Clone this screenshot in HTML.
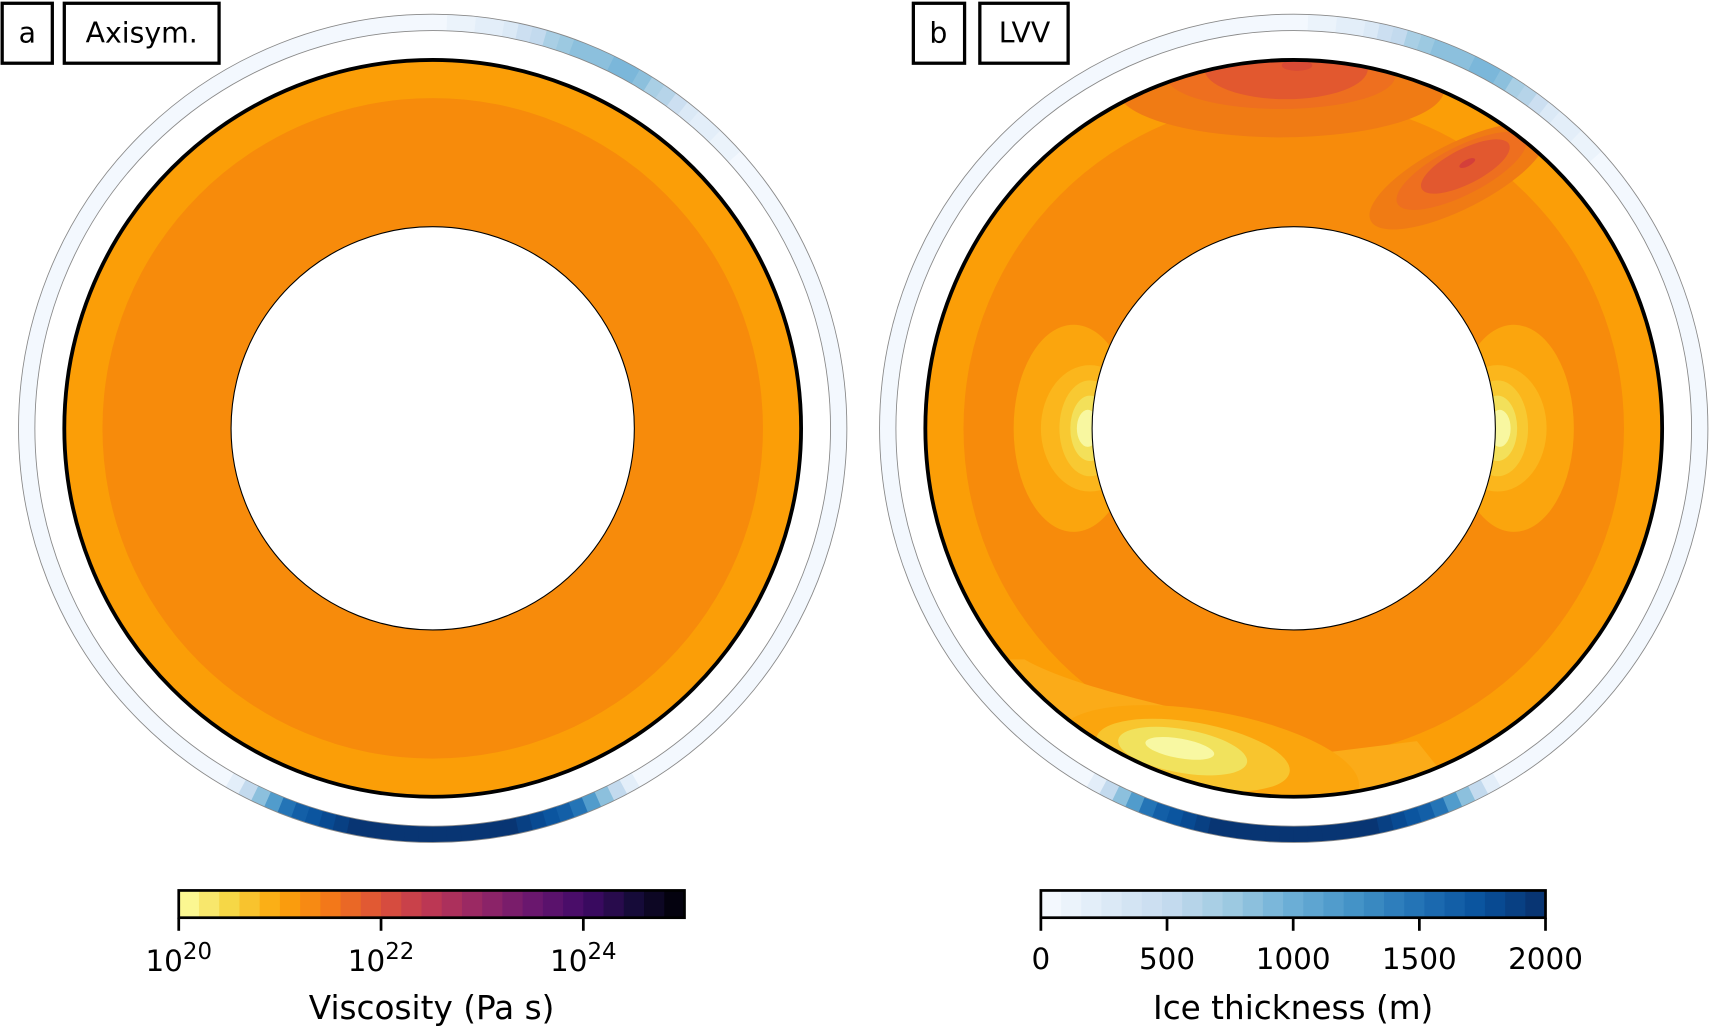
<!DOCTYPE html>
<html><head><meta charset="utf-8"><style>
html,body{margin:0;padding:0;background:#fff;}
svg{display:block;font-family:"DejaVu Sans","Liberation Sans",sans-serif;}
</style></head><body>
<svg id="fig" width="1709" height="1028" viewBox="0 0 1568 943.2" preserveAspectRatio="none" xmlns="http://www.w3.org/2000/svg">
<defs>
<clipPath id="annL"><path clip-rule="evenodd" d="M397,393 m-338,0 a338,338 0 1,0 676,0 a338,338 0 1,0 -676,0 Z M397,393 m-185,0 a185,185 0 1,1 370,0 a185,185 0 1,1 -370,0 Z"/></clipPath>
<clipPath id="annR"><path clip-rule="evenodd" d="M1187,393 m-338,0 a338,338 0 1,0 676,0 a338,338 0 1,0 -676,0 Z M1187,393 m-185,0 a185,185 0 1,1 370,0 a185,185 0 1,1 -370,0 Z"/></clipPath>
</defs>

<g>
  <g id="iceL"></g>
  <circle cx="397" cy="393" r="380" fill="none" stroke="#888" stroke-width="0.8"/>
  <circle cx="397" cy="393" r="365" fill="none" stroke="#888" stroke-width="0.8"/>
  <g clip-path="url(#annL)">
    <circle cx="397" cy="393" r="338" fill="#fb9e07"/>
    <circle cx="397" cy="393" r="303" fill="#f78b0b"/>
  </g>
  <circle cx="397" cy="393" r="338" fill="none" stroke="#000" stroke-width="3.5"/>
  <circle cx="397" cy="393" r="185" fill="#fff" stroke="#000" stroke-width="1"/>
  <rect x="2" y="3" width="46" height="55" fill="#fff" stroke="#000" stroke-width="3"/>
  <text x="25" y="39" font-size="26" text-anchor="middle">a</text>
  <rect x="59" y="3" width="142" height="55" fill="#fff" stroke="#000" stroke-width="3"/>
  <text x="130" y="39" font-size="26" text-anchor="middle">Axisym.</text>
</g>

<g>
  <g id="iceR"></g>
  <circle cx="1187" cy="393" r="380" fill="none" stroke="#888" stroke-width="0.8"/>
  <circle cx="1187" cy="393" r="365" fill="none" stroke="#888" stroke-width="0.8"/>
  <g clip-path="url(#annR)">
    <circle cx="1187" cy="393" r="338" fill="#fb9e07"/>
    <circle cx="1187" cy="393" r="303" fill="#f78b0b"/>
    <path d="M849,605 L940,605 C1000,640 1150,660 1220,690 L1300,680 L1340,730 L849,760 Z" fill="#fbab18"/>
    <ellipse cx="1175" cy="82" rx="150" ry="44" fill="#f07b14"/>
    <ellipse cx="1175" cy="70" rx="105" ry="30" fill="#ee6f1f"/>
    <ellipse cx="1180" cy="63" rx="75" ry="28" fill="#e2582f"/>
    <ellipse cx="1190" cy="60" rx="14" ry="5" fill="#d84a35"/>
    <g transform="rotate(-27 1340 155)">
      <ellipse cx="1335" cy="160" rx="90" ry="30" fill="#f07b14"/>
      <ellipse cx="1340" cy="157" rx="66" ry="22" fill="#ee6f1f"/>
      <ellipse cx="1345" cy="155" rx="45" ry="16" fill="#e2582f"/>
      <ellipse cx="1348" cy="153" rx="8" ry="3" fill="#d43f3a"/>
    </g>
    <ellipse cx="985" cy="393" rx="55" ry="95" fill="#fba50d"/>
    <ellipse cx="1000" cy="393" rx="45" ry="58" fill="#fbb61c"/>
    <ellipse cx="1000" cy="393" rx="28" ry="44" fill="#f8c932"/>
    <ellipse cx="1000" cy="393" rx="18" ry="30" fill="#f3e05a"/>
    <ellipse cx="998" cy="393" rx="10" ry="17" fill="#f8f7a0"/>
    <ellipse cx="1389" cy="393" rx="55" ry="95" fill="#fba50d"/>
    <ellipse cx="1374" cy="393" rx="45" ry="58" fill="#fbb61c"/>
    <ellipse cx="1374" cy="393" rx="28" ry="44" fill="#f8c932"/>
    <ellipse cx="1374" cy="393" rx="18" ry="30" fill="#f3e05a"/>
    <ellipse cx="1376" cy="393" rx="10" ry="17" fill="#f8f7a0"/>
    <g transform="rotate(10 1090 690)">
      <ellipse cx="1110" cy="695" rx="140" ry="46" fill="#fba50d"/>
      <ellipse cx="1095" cy="692" rx="90" ry="30" fill="#f8c52e"/>
      <ellipse cx="1085" cy="690" rx="60" ry="20" fill="#f1e25d"/>
      <ellipse cx="1082" cy="688" rx="32" ry="9" fill="#f8f8a2"/>
    </g>
  </g>
  <circle cx="1187" cy="393" r="338" fill="none" stroke="#000" stroke-width="3.5"/>
  <circle cx="1187" cy="393" r="185" fill="#fff" stroke="#000" stroke-width="1"/>
  <rect x="838" y="3" width="47" height="55" fill="#fff" stroke="#000" stroke-width="3"/>
  <text x="861" y="39" font-size="26" text-anchor="middle">b</text>
  <rect x="899" y="3" width="81" height="55" fill="#fff" stroke="#000" stroke-width="3"/>
  <text x="940" y="39" font-size="26" text-anchor="middle">LVV</text>
</g>

<g id="cbarL"></g>
<g id="cbarR"></g>
</svg>
<script>
const iceAngles = [0,10,20,30,40,50,60,70,80,90,100,110,120,130,140,150,160,170,180,190,200,210,220,230,240,250,260,270,280,290,300,310,320,330,340,350];
const iceThickness = [5,5,5,5,10,250,900,850,250,10,5,5,5,5,5,5,5,5,5,5,5,5,5,5,20,1600,2000,2000,2000,1600,20,5,5,5,5,5];
const viscTicks = [20,22,24];
const viscRange = [20,25];
const iceTicks = [0,500,1000,1500,2000];
const iceRange = [0,2000];
const nBins = 25;

const NS = "http://www.w3.org/2000/svg";
const infernoStops = ["#000004","#160b39","#420a68","#6a176e","#932667","#bc3754","#dd513a","#f37819","#fca50a","#f6d746","#fcffa4"];
const bluesStops = ["#f7fbff","#deebf7","#c6dbef","#9ecae1","#6baed6","#4292c6","#2171b5","#08519c","#08306b"];
function hex(c){return [1,3,5].map(i=>parseInt(c.substr(i,2),16));}
function cmap(stops,t){t=Math.max(0,Math.min(1,t));const n=stops.length-1;const i=Math.min(n-1,Math.floor(t*n));const f=t*n-i;const a=hex(stops[i]),b=hex(stops[i+1]);return "rgb("+a.map((v,k)=>Math.round(v+(b[k]-v)*f)).join(",")+")";}
function quant(t){return (Math.floor(Math.min(0.9999,t)*nBins)+0.5)/nBins;}
function iceColor(v){return cmap(bluesStops,quant((v-iceRange[0])/(iceRange[1]-iceRange[0])));}
function thickAt(a){const s=10;const i=Math.floor(a/s)%iceAngles.length;const j=(i+1)%iceAngles.length;const f=(a-iceAngles[i])/s;return iceThickness[i]+(iceThickness[j]-iceThickness[i])*f;}
function drawRing(gid,cx,cy){
  const g=document.getElementById(gid);
  const r1=365,r2=380,step=2;
  for(let a=0;a<360;a+=step){
    const a0=a*Math.PI/180,a1=(a+step+0.4)*Math.PI/180;
    const p=document.createElementNS(NS,"path");
    const d=`M${cx+r1*Math.cos(a0)},${cy-r1*Math.sin(a0)} L${cx+r2*Math.cos(a0)},${cy-r2*Math.sin(a0)} A${r2},${r2} 0 0,0 ${cx+r2*Math.cos(a1)},${cy-r2*Math.sin(a1)} L${cx+r1*Math.cos(a1)},${cy-r1*Math.sin(a1)} A${r1},${r1} 0 0,1 ${cx+r1*Math.cos(a0)},${cy-r1*Math.sin(a0)} Z`;
    p.setAttribute("d",d);
    p.setAttribute("fill",iceColor(thickAt(a+step/2)));
    
    
    g.appendChild(p);
  }
}
drawRing("iceL",397,393);
drawRing("iceR",1187,393);

function el(tag,attrs,parent,txt){const e=document.createElementNS(NS,tag);for(const k in attrs)e.setAttribute(k,attrs[k]);if(txt!==undefined)e.textContent=txt;parent.appendChild(e);return e;}
function drawCbar(gid,x0,x1,stops,range,ticks,fmt,title){
  const g=document.getElementById(gid);
  const y0=817,y1=842,w=(x1-x0)/nBins;
  for(let i=0;i<nBins;i++){
    const r=el("rect",{x:x0+i*w,y:y0,width:w+0.6,height:y1-y0,fill:cmap(stops,(i+0.5)/nBins)},g);
    
    
  }
  el("rect",{x:x0,y:y0,width:x1-x0,height:y1-y0,fill:"none",stroke:"#000","stroke-width":2.5},g);
  const sx=v=>x0+(v-range[0])/(range[1]-range[0])*(x1-x0);
  ticks.forEach(v=>{
    const t=el("line",{x1:sx(v),x2:sx(v),y1:y1,y2:y1+12,stroke:"#000","stroke-width":2.5},g);
    
    
    fmt(g,sx(v),v);
  });
  const tt=el("text",{x:(x0+x1)/2,y:935,"font-size":30,"text-anchor":"middle"},g,title);
  
  
}
const inferR=infernoStops.slice().reverse();
drawCbar("cbarL",164,628,inferR,viscRange,viscTicks,(g,x,v)=>{
  const t=el("text",{x:x,y:891,"font-size":27,"text-anchor":"middle"},g);
  
  
  el("tspan",{},t,"10");
  el("tspan",{"font-size":21,dy:-11},t,String(v));
},"Viscosity (Pa s)");
drawCbar("cbarR",955,1418,bluesStops,iceRange,iceTicks,(g,x,v)=>{
  const t=el("text",{x:x,y:889,"font-size":27,"text-anchor":"middle"},g,String(v));
  
  
},"Ice thickness (m)");
</script>
</body></html>
